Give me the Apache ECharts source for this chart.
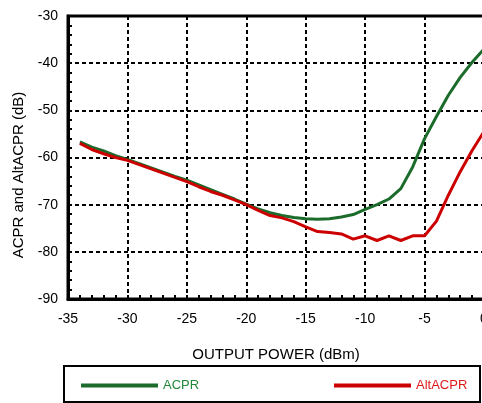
<!DOCTYPE html>
<html>
<head>
<meta charset="utf-8">
<script src="https://cdn.jsdelivr.net/npm/echarts@6/dist/echarts.min.js"></script>
<style>html,body{margin:0;padding:0;background:#fff;}#c{width:482px;height:403px;}</style>
</head>
<body>
<div id="c"></div>
<script>
const outputPower = [-34,-33,-32,-31,-30,-29,-28,-27,-26,-25,-24,-23,-22,-21,-20,-19,-18,-17,-16,-15,-14,-13,-12,-11,-10,-9,-8,-7,-6,-5,-4,-3,-2,-1,0];
const acpr = [-56.7,-57.8,-58.6,-59.6,-60.4,-61.3,-62.2,-63.1,-64.0,-64.8,-65.8,-66.8,-67.8,-68.8,-69.9,-70.9,-71.7,-72.3,-72.7,-73.0,-73.1,-73.0,-72.6,-72.1,-71.0,-70.0,-68.8,-66.6,-62.0,-56.0,-51.3,-46.8,-43.0,-39.8,-37.0];
const altAcpr = [-57.0,-58.3,-59.2,-60.0,-60.6,-61.5,-62.4,-63.3,-64.2,-65.1,-66.2,-67.2,-68.0,-69.0,-70.0,-71.2,-72.3,-72.8,-73.6,-74.7,-75.7,-75.9,-76.2,-77.3,-76.6,-77.6,-76.6,-77.6,-76.6,-76.6,-73.5,-68.0,-63.0,-58.5,-54.5];
const seriesNames = ['ACPR', 'AltACPR'];
const xTitle = 'OUTPUT POWER (dBm)';
const yTitle = 'ACPR and AltACPR (dB)';

const FONT = 'Liberation Sans, Arial, sans-serif';
const chart = echarts.init(document.getElementById('c'), null, {renderer: 'canvas'});
const pair = (xs, ys) => xs.map((x, i) => [x, ys[i]]);
const splitLine = {show: true, lineStyle: {color: '#000', width: 2, type: [4, 3]}};
chart.setOption({
  animation: false,
  backgroundColor: '#fff',
  grid: {left: 68, top: 16, width: 416, height: 283, containLabel: false, outerBoundsMode: 'none',
         show: true, borderColor: '#000', borderWidth: 3, backgroundColor: 'transparent'},
  xAxis: {
    type: 'value', min: -35, max: 0, interval: 5,
    name: xTitle, nameLocation: 'middle', nameGap: 48,
    nameTextStyle: {fontFamily: FONT, fontSize: 15, color: '#000'},
    axisLine: {show: true, onZero: false, lineStyle: {color: '#000', width: 3}},
    axisTick: {show: true, inside: true, length: 4, lineStyle: {color: '#000', width: 2}},
    minorTick: {show: true, splitNumber: 5, length: 4, lineStyle: {color: '#000', width: 2}},
    axisLabel: {fontFamily: FONT, fontSize: 14, color: '#000', margin: 13},
    splitLine: splitLine
  },
  yAxis: {
    type: 'value', min: -90, max: -30, interval: 10,
    axisLine: {show: true, onZero: false, lineStyle: {color: '#000', width: 3}},
    axisTick: {show: true, inside: true, length: 4, lineStyle: {color: '#000', width: 2}},
    minorTick: {show: true, splitNumber: 5, length: 4, lineStyle: {color: '#000', width: 2}},
    axisLabel: {fontFamily: FONT, fontSize: 14, color: '#000', margin: 10},
    splitLine: splitLine
  },
  legend: [
    {data: [seriesNames[0]], left: 81, top: 379, padding: 0, icon: 'rect', itemWidth: 77, itemHeight: 4,
     textStyle: {fontFamily: FONT, fontSize: 13, color: '#23873a'}},
    {data: [seriesNames[1]], left: 334, top: 379, padding: 0, icon: 'rect', itemWidth: 77, itemHeight: 4,
     textStyle: {fontFamily: FONT, fontSize: 13, color: '#dd1a1a'}}
  ],
  graphic: [
    {type: 'rect', shape: {x: 64, y: 366, width: 416, height: 36}, style: {fill: 'none', stroke: '#000', lineWidth: 2}, z: -1},
    {type: 'text', x: 19, y: 175, rotation: Math.PI / 2,
     style: {text: yTitle, fontFamily: FONT, fontSize: 15, fill: '#000', textAlign: 'center', textVerticalAlign: 'middle'}}
  ],
  series: [
    {name: seriesNames[0], type: 'line', data: pair(outputPower, acpr), symbol: 'none', color: '#1b6b2b', lineStyle: {width: 3, color: '#1b6b2b'}, z: 3},
    {name: seriesNames[1], type: 'line', data: pair(outputPower, altAcpr), symbol: 'none', color: '#cc0000', lineStyle: {width: 3, color: '#cc0000'}, z: 4}
  ]
});
</script>
</body>
</html>
